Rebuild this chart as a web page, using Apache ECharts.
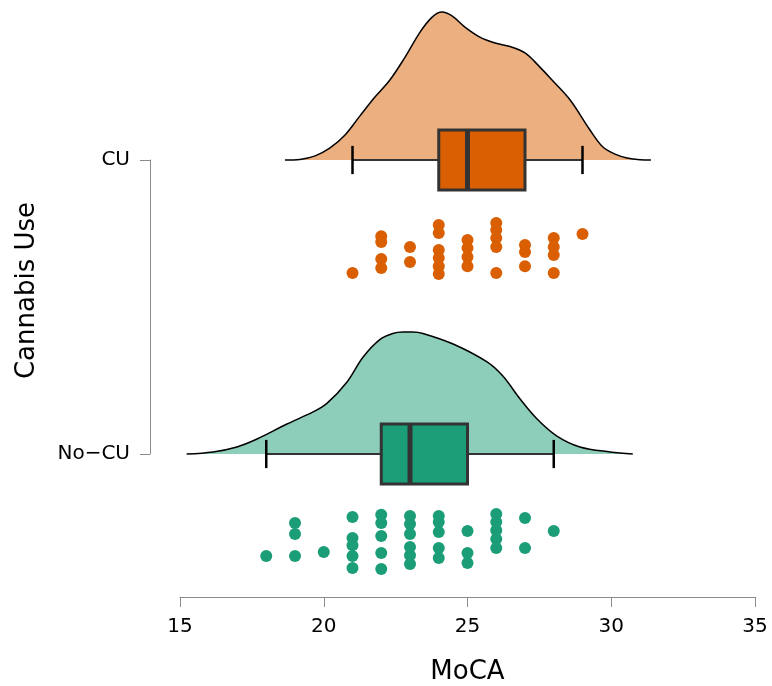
<!DOCTYPE html>
<html>
<head>
<meta charset="utf-8">
<script src="https://cdn.jsdelivr.net/npm/echarts@6/dist/echarts.min.js"></script>
<style>html,body{margin:0;padding:0;background:#fff;}#c{width:772px;height:686px;}</style>
</head>
<body>
<div id="c"></div>
<script>
// ---- data ----
const categories = ['No\u2212CU', 'CU'];
const groupPos = [0, 1];
const xTicks = [15, 20, 25, 30, 35];
const xTitle = 'MoCA';
const yTitle = 'Cannabis Use';

// box stats: [lower whisker, Q1, median, Q3, upper whisker]
const cuBox = [21, 24, 25, 27, 29];
const nocuBox = [18, 22, 23, 25, 28];

// density curves (x, height above group baseline)
const cuDensX = [18.65, 19.17, 19.70, 20.22, 20.74, 21.26, 21.78, 22.30, 22.83, 23.35, 23.77, 24.11, 24.46, 24.91, 25.43, 25.96, 26.48, 27.00, 27.52, 27.94, 28.57, 29.26, 29.71, 30.13, 30.55, 31.00, 31.38];
const cuDensH = [0, 0.002, 0.014, 0.041, 0.085, 0.150, 0.214, 0.272, 0.350, 0.435, 0.486, 0.503, 0.490, 0.452, 0.418, 0.398, 0.386, 0.364, 0.316, 0.272, 0.204, 0.102, 0.044, 0.020, 0.007, 0.001, 0];
const nocuDensX = [15.23, 16.15, 16.98, 17.68, 18.72, 19.63, 20.11, 20.81, 21.37, 21.96, 22.40, 22.76, 23.10, 23.45, 24.50, 25.68, 26.23, 26.83, 27.42, 28.11, 28.91, 29.96, 30.75];
const nocuDensH = [0, 0.007, 0.024, 0.051, 0.102, 0.143, 0.172, 0.245, 0.330, 0.390, 0.410, 0.415, 0.415, 0.410, 0.374, 0.313, 0.265, 0.187, 0.119, 0.061, 0.024, 0.007, 0];

// raw points (score, jittered vertical position)
const cuDotX = [21, 22, 22, 22, 22, 23, 23, 24, 24, 24, 24, 24, 24, 25, 25, 25, 25, 26, 26, 26, 26, 26, 27, 27, 27, 28, 28, 28, 28, 29];
const cuDotY = [0.616, 0.741, 0.721, 0.663, 0.633, 0.704, 0.653, 0.779, 0.752, 0.694, 0.667, 0.639, 0.612, 0.728, 0.701, 0.670, 0.639, 0.786, 0.762, 0.735, 0.704, 0.616, 0.711, 0.687, 0.639, 0.735, 0.704, 0.677, 0.616, 0.748];
const nocuDotX = [18, 19, 19, 19, 20, 21, 21, 21, 21, 21, 22, 22, 22, 22, 22, 23, 23, 23, 23, 23, 23, 24, 24, 24, 24, 24, 25, 25, 25, 26, 26, 26, 26, 26, 27, 27, 28];
const nocuDotY = [-0.347, -0.235, -0.272, -0.347, -0.333, -0.214, -0.286, -0.310, -0.347, -0.388, -0.207, -0.235, -0.279, -0.337, -0.391, -0.211, -0.238, -0.272, -0.316, -0.344, -0.374, -0.211, -0.231, -0.265, -0.320, -0.354, -0.262, -0.337, -0.371, -0.204, -0.231, -0.259, -0.289, -0.320, -0.218, -0.320, -0.262];

// ---- styling / layout ----
const FONT = 'DejaVu Sans';
const cuColor = '#D95F02', cuLight = '#ECAF80';
const ncColor = '#1B9E77', ncLight = '#8DCEBB';
const PX = 294;              // pixels per group unit
const axisY = 597, baseY = 454, topY = 10;
const yMin = -(axisY - baseY) / PX;
const yMax = (baseY - topY) / PX;
const BOX_HALF = 0.102, CAP_HALF = 0.048;

function dens(xs, hs, off) { return xs.map((x, i) => [x, off + hs[i]]); }
function dots(xs, ys) { return xs.map((x, i) => [x, ys[i]]); }

function boxRender(params, api) {
  const y = api.value(0);
  const lo = api.value(1), q1 = api.value(2), md = api.value(3), q3 = api.value(4), hi = api.value(5);
  const color = api.value(6) === 1 ? cuColor : ncColor;
  const pLo = api.coord([lo, y]), pQ1 = api.coord([q1, y]), pMd = api.coord([md, y]);
  const pQ3 = api.coord([q3, y]), pHi = api.coord([hi, y]);
  const h = api.size([0, BOX_HALF])[1];
  const c = api.size([0, CAP_HALF])[1];
  const cy = pLo[1];
  return {
    type: 'group',
    children: [
      { type: 'line', shape: { x1: pLo[0], y1: cy, x2: pQ1[0], y2: cy }, style: { stroke: '#333', lineWidth: 2 } },
      { type: 'line', shape: { x1: pQ3[0], y1: cy, x2: pHi[0], y2: cy }, style: { stroke: '#333', lineWidth: 2 } },
      { type: 'line', shape: { x1: pLo[0], y1: cy - c, x2: pLo[0], y2: cy + c }, style: { stroke: '#000', lineWidth: 2.5 } },
      { type: 'line', shape: { x1: pHi[0], y1: cy - c, x2: pHi[0], y2: cy + c }, style: { stroke: '#000', lineWidth: 2.5 } },
      { type: 'rect', shape: { x: pQ1[0], y: cy - h, width: pQ3[0] - pQ1[0], height: 2 * h }, style: { fill: color, stroke: '#333', lineWidth: 3 } },
      { type: 'line', shape: { x1: pMd[0], y1: cy - h, x2: pMd[0], y2: cy + h }, style: { stroke: '#333', lineWidth: 5 } }
    ]
  };
}

const chart = echarts.init(document.getElementById('c'), null, { renderer: 'canvas' });
chart.setOption({
  animation: false,
  backgroundColor: '#fff',
  textStyle: { fontFamily: FONT },
  grid: [
    { left: 180, right: 17, top: topY, bottom: 686 - axisY, outerBoundsMode: 'none', containLabel: false },
    { left: 150, width: 1, top: 160, bottom: 686 - baseY, outerBoundsMode: 'none', containLabel: false },
    { left: 150, width: 1, top: 202, height: 177, outerBoundsMode: 'none', containLabel: false }
  ],
  xAxis: [
    {
      gridIndex: 0, type: 'value', min: xTicks[0], max: xTicks[xTicks.length - 1], interval: xTicks[1] - xTicks[0],
      position: 'bottom',
      name: xTitle, nameLocation: 'middle', nameGap: 62,
      nameTextStyle: { fontSize: 26, color: '#000', fontFamily: FONT },
      axisLine: { onZero: false, lineStyle: { color: '#8a8a8a', width: 1 } },
      axisTick: { length: 10, lineStyle: { color: '#8a8a8a' } },
      axisLabel: { fontSize: 20, color: '#000', margin: 20, fontFamily: FONT },
      splitLine: { show: false }
    },
    { gridIndex: 1, type: 'value', show: false },
    { gridIndex: 2, type: 'value', show: false }
  ],
  yAxis: [
    { gridIndex: 0, type: 'value', min: yMin, max: yMax, show: false },
    {
      gridIndex: 1, type: 'category', data: categories, boundaryGap: false,
      axisLine: { onZero: false, lineStyle: { color: '#8a8a8a', width: 1 } },
      axisTick: { length: 10, lineStyle: { color: '#8a8a8a' } },
      axisLabel: { fontSize: 20, color: '#000', margin: 20, fontFamily: FONT },
      splitLine: { show: false }
    },
    {
      gridIndex: 2, type: 'value', name: yTitle, nameLocation: 'middle', nameGap: 110,
      nameTextStyle: { fontSize: 26, color: '#000', fontFamily: FONT },
      axisLine: { show: false }, axisTick: { show: false }, axisLabel: { show: false }, splitLine: { show: false }
    }
  ],
  series: [
    {
      type: 'line', xAxisIndex: 0, yAxisIndex: 0, data: dens(cuDensX, cuDensH, groupPos[1]),
      smooth: 0.35, showSymbol: false, symbol: 'none',
      lineStyle: { color: '#000', width: 1.5 },
      areaStyle: { color: cuLight, opacity: 1, origin: groupPos[1] }, z: 1
    },
    {
      type: 'line', xAxisIndex: 0, yAxisIndex: 0, data: dens(nocuDensX, nocuDensH, groupPos[0]),
      smooth: 0.35, showSymbol: false, symbol: 'none',
      lineStyle: { color: '#000', width: 1.5 },
      areaStyle: { color: ncLight, opacity: 1, origin: groupPos[0] }, z: 1
    },
    {
      type: 'custom', xAxisIndex: 0, yAxisIndex: 0, renderItem: boxRender, z: 3,
      data: [
        [groupPos[1]].concat(cuBox, [1]),
        [groupPos[0]].concat(nocuBox, [0])
      ]
    },
    {
      type: 'scatter', xAxisIndex: 0, yAxisIndex: 0, data: dots(cuDotX, cuDotY),
      symbolSize: 12, itemStyle: { color: cuColor, opacity: 1 }, z: 4
    },
    {
      type: 'scatter', xAxisIndex: 0, yAxisIndex: 0, data: dots(nocuDotX, nocuDotY),
      symbolSize: 12, itemStyle: { color: ncColor, opacity: 1 }, z: 4
    }
  ]
});
</script>
</body>
</html>
